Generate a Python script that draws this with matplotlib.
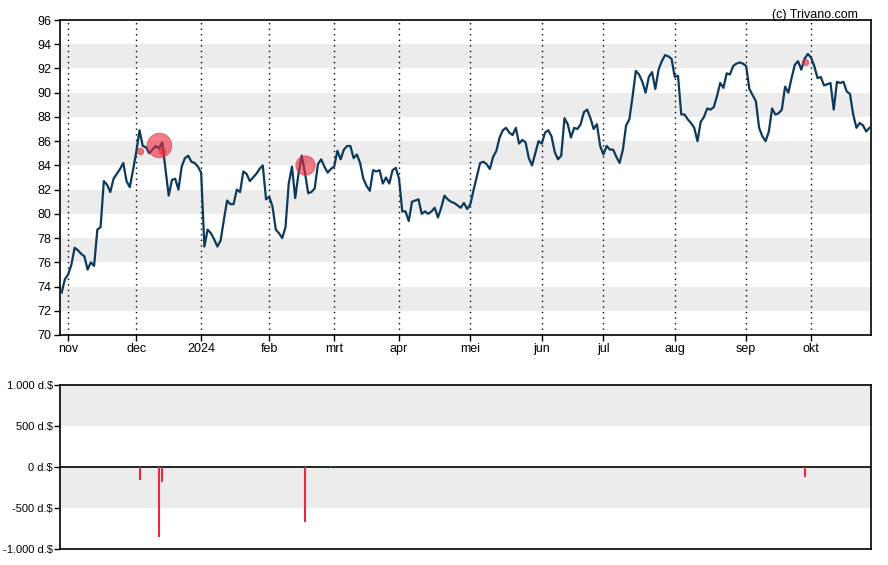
import pandas as pd
import matplotlib
matplotlib.use('Agg')
import matplotlib.pyplot as plt

plt.rcParams['font.family'] = ['Liberation Sans', 'DejaVu Sans']

# Daily closing price (one value per trading day, starting 2023-10-30)
prices = [
    73.5, 74.6, 75.0, 75.8, 77.2, 77.0, 76.7, 76.5, 75.4, 76.0,
    75.7, 78.7, 78.9, 82.7, 82.4, 81.8, 82.9, 83.3, 83.7, 84.2,
    82.7, 82.2, 83.6, 85.1, 86.9, 85.6, 85.5, 85.0, 85.3, 85.6,
    85.4, 85.9, 83.7, 81.5, 82.8, 82.9, 82.0, 83.9, 84.6, 84.8,
    84.3, 84.2, 83.9, 83.4, 77.3, 78.7, 78.4, 77.9, 77.3, 77.8,
    79.5, 81.1, 80.8, 80.8, 82.0, 81.8, 83.5, 83.3, 82.7, 83.0,
    83.3, 83.7, 84.0, 81.2, 81.4, 80.6, 78.7, 78.4, 78.0, 78.9,
    82.5, 83.9, 81.3, 83.3, 84.8, 83.4, 81.7, 81.8, 82.1, 84.1,
    84.5, 83.9, 83.4, 83.7, 83.9, 85.2, 84.5, 85.3, 85.6, 85.6,
    84.6, 84.9, 84.2, 82.9, 82.3, 81.9, 83.6, 83.5, 83.6, 82.5,
    83.0, 82.5, 83.6, 83.8, 82.9, 80.2, 80.2, 79.4, 81.0, 81.1,
    81.2, 80.0, 80.2, 80.0, 80.2, 80.5, 79.7, 80.5, 81.5, 81.2,
    81.0, 80.9, 80.7, 80.5, 80.9, 80.4, 80.8, 82.0, 83.1, 84.2,
    84.3, 84.1, 83.7, 84.7, 85.2, 86.3, 86.9, 87.1, 86.7, 86.5,
    87.1, 85.8, 86.1, 85.9, 84.6, 84.0, 85.0, 86.0, 85.8, 86.7,
    86.9, 86.4, 85.1, 84.5, 84.8, 87.9, 87.4, 86.3, 87.1, 87.0,
    87.4, 88.4, 88.6, 87.9, 87.0, 87.4, 85.6, 84.9, 85.6, 85.3,
    85.3, 84.7, 84.2, 85.3, 87.3, 87.8, 89.7, 91.8, 91.5, 90.9,
    90.0, 91.3, 91.7, 90.3, 91.9, 92.6, 93.1, 93.0, 92.8, 91.3,
    91.4, 88.2, 88.2, 87.8, 87.5, 87.1, 86.0, 87.6, 88.0, 88.7,
    88.6, 88.8, 89.7, 90.8, 90.4, 91.6, 91.5, 92.2, 92.4, 92.5,
    92.4, 92.2, 90.3, 89.8, 89.3, 87.1, 86.4, 86.0, 86.8, 88.7,
    88.2, 88.3, 88.6, 90.5, 90.0, 91.2, 92.3, 92.6, 91.9, 92.8,
    93.2, 92.9, 92.2, 91.2, 91.3, 90.6, 90.7, 90.8, 88.6, 90.9,
    90.8, 90.9, 90.1, 89.9, 88.2, 87.1, 87.5, 87.3, 86.8, 87.1,
]

# Insider transactions: date, price, amount (x1000 $)
trade_dates = ['2023-12-04', '2023-12-12', '2023-12-13', '2024-02-16', '2024-02-29', '2024-09-27']
trade_prices = [85.2, 85.7, 85.2, 84.0, None, 92.5]
trade_amounts = [-155, -856, -187, -674, 10, -126]

month_labels = ['nov', 'dec', '2024', 'feb', 'mrt', 'apr', 'mei', 'jun', 'jul', 'aug', 'sep', 'okt']

holidays = ['2023-11-23', '2023-12-25', '2024-01-01', '2024-01-15', '2024-02-19',
            '2024-03-29', '2024-05-27', '2024-06-19', '2024-07-04', '2024-09-02']
dates = pd.bdate_range('2023-10-30', '2024-12-31', freq='C', holidays=holidays)[:len(prices)]
n = len(prices)
pos = list(range(n))

# first trading day of every month -> tick
df = pd.DataFrame({'date': dates, 'pos': pos})
firsts = df.groupby(df['date'].dt.to_period('M'))['pos'].min().values[1:]

def date_pos(d):
    return int((dates <= pd.Timestamp(d)).sum()) - 1

fig = plt.figure(figsize=(8.88, 5.65), dpi=100)
ax = fig.add_axes([0.0676, 0.4071, 0.9133, 0.5575])
ax2 = fig.add_axes([0.0676, 0.0283, 0.9133, 0.2903])

line_color = '#0b3a5c'
red = '#e8283c'
band = '#ececec'

# price panel
for lo in range(72, 96, 4):
    ax.axhspan(lo, lo + 2, color=band, zorder=0, lw=0)
for p in firsts:
    ax.axvline(p, color='black', linestyle=(0, (1, 3)), lw=1, zorder=1)
ax.plot(pos, prices, color=line_color, lw=1.6, zorder=3)

for d, pr, amt in zip(trade_dates, trade_prices, trade_amounts):
    if pr is None:
        continue
    dia = abs(amt) * 0.0205
    ax.scatter(date_pos(d), pr, s=max(dia, 4.5) ** 2, color=red, alpha=0.6,
               edgecolors=red, linewidths=0.8, zorder=4)

ax.set_xlim(-0.5, n - 0.5)
ax.set_ylim(70, 96)
ax.set_yticks(range(70, 97, 2))
ax.set_xticks(firsts)
ax.set_xticklabels(month_labels)
ax.tick_params(axis='both', labelsize=9, length=4, width=1, pad=2)

# transaction panel
ax2.axhspan(500, 1000, color=band, zorder=0, lw=0)
ax2.axhspan(-500, 0, color=band, zorder=0, lw=0)
ax2.axhline(0, color='black', lw=1.2, zorder=2)
for d, amt in zip(trade_dates, trade_amounts):
    ax2.vlines(date_pos(d), 0, amt, colors=red if amt < 0 else '#2e8b57', lw=1.5, zorder=3)
ax2.set_xlim(-0.5, n - 0.5)
ax2.set_ylim(-1000, 1000)
ax2.set_yticks([-1000, -500, 0, 500, 1000])
ax2.set_yticklabels(['-1.000 d.$', '-500 d.$', '0 d.$', '500 d.$', '1.000 d.$'])
ax2.set_xticks([])
ax2.tick_params(axis='y', labelsize=8, length=4, width=1, pad=1)

for a in (ax, ax2):
    for s in a.spines.values():
        s.set_linewidth(1.2)

fig.text(0.966, 0.984, '(c) Trivano.com', ha='right', va='top', fontsize=9)

fig.savefig('out.png', dpi=100)
